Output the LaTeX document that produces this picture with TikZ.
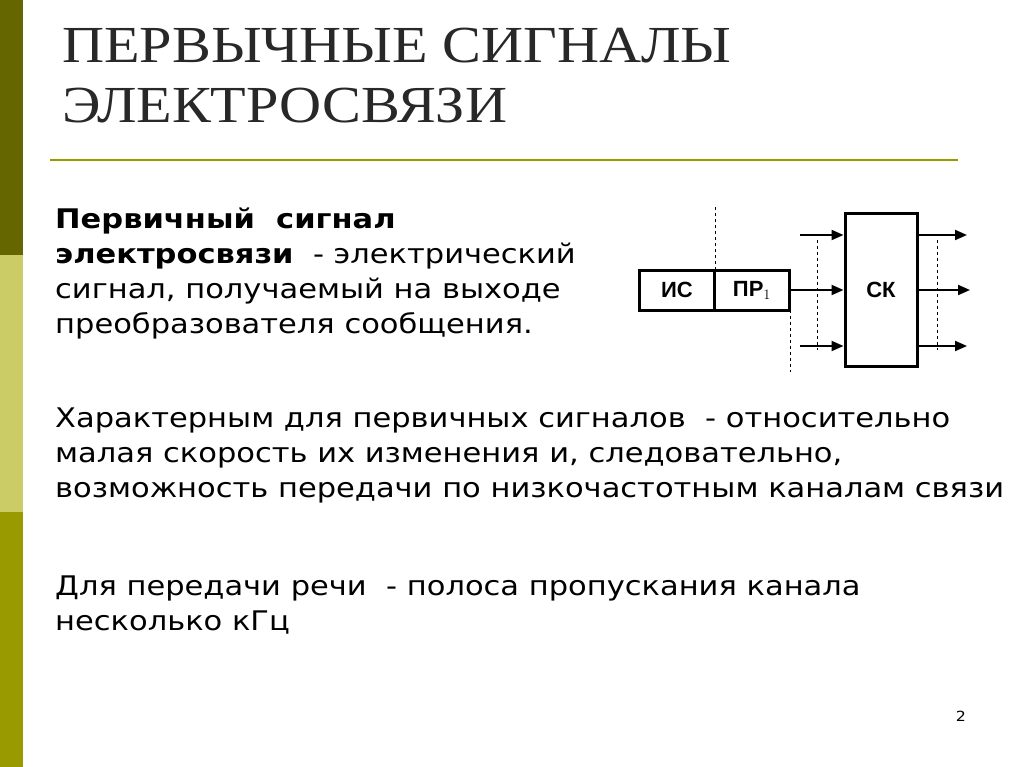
\documentclass[tikz,border=0pt]{standalone}
\usepackage{fontspec}
\setmainfont{DejaVu Sans}[FakeStretch=1.13]
\newfontfamily\titlefont{Liberation Serif}[FakeStretch=1.12]
\newfontfamily\blkfont{Liberation Sans}
\usetikzlibrary{arrows.meta}
\begin{document}
\begin{tikzpicture}[x=1pt,y=-1pt,
  txt/.style={anchor=north west,inner sep=0pt,align=left,font=\fontsize{27}{35}\selectfont},
  blk/.style={draw,line width=3pt,minimum height=40pt,inner sep=0pt,font=\blkfont\bfseries\fontsize{22}{22}\selectfont},
  arr/.style={line width=2pt,-{Triangle[length=12pt,width=10pt]}},
  dsh/.style={dashed,line width=1pt}]
\useasboundingbox (0,0) rectangle (1024,767);
\fill[white] (0,0) rectangle (1024,767);
\fill[fill={rgb,255:red,102;green,102;blue,0}] (0,0) rectangle (23,255);
\fill[fill={rgb,255:red,204;green,204;blue,102}] (0,255) rectangle (23,512);
\fill[fill={rgb,255:red,153;green,153;blue,0}] (0,512) rectangle (23,767);
\node[anchor=north west,inner sep=0pt,align=left,font=\titlefont\fontsize{52}{60}\selectfont,text={rgb,255:red,40;green,40;blue,40}] (title) at (62,28) {ПЕРВЫЧНЫЕ СИГНАЛЫ\\ЭЛЕКТРОСВЯЗИ};
\draw[line width=2pt,draw={rgb,255:red,153;green,153;blue,0}] (50,160) -- (958,160);
\node[txt] (t1) at (55,208) {\textbf{Первичный\ \ сигнал}\\\textbf{электросвязи}\ \ - электрический\\сигнал, получаемый на выходе\\преобразователя сообщения.};
\node[txt] (t2) at (55,408) {Характерным для первичных сигналов\ \ - относительно\\малая скорость их изменения и, следовательно,\\возможность передачи по низкочастотным каналам связи};
\node[txt] (t3) at (55,576) {Для передачи речи\ \ - полоса пропускания канала\\несколько кГц};
\node[anchor=center,font=\fontsize{14}{14}\selectfont] (pg) at (961,716) {2};
% diagram
\node[blk,minimum width=75pt] (is) at (677,290) {ИС};
\node[blk,minimum width=75pt] (pr) at (752,290) {ПР$_1$};
\node[blk,minimum width=72pt,minimum height=152pt] (sk) at (881,290) {СК};
\coordinate (d1a) at (715,207); \coordinate (d1b) at (715,270);
\coordinate (d2a) at (790,310); \coordinate (d2b) at (790,372);
\coordinate (d3a) at (817,240); \coordinate (d3b) at (817,350);
\coordinate (d4a) at (937,240); \coordinate (d4b) at (937,350);
\draw[dsh] (d1a)--(d1b); \draw[dsh] (d2a)--(d2b);
\draw[dsh] (d3a)--(d3b); \draw[dsh] (d4a)--(d4b);
\coordinate (i1) at (800,235); \coordinate (i3) at (800,346);
\draw[arr] (i1) -- (sk.west |- i1);
\draw[arr] (pr.east) -- (sk.west |- pr.east);
\draw[arr] (i3) -- (sk.west |- i3);
\coordinate (o1) at (967,235); \coordinate (o2) at (970,290); \coordinate (o3) at (967,346);
\draw[arr] (sk.east |- o1) -- (o1);
\draw[arr] (sk.east |- o2) -- (o2);
\draw[arr] (sk.east |- o3) -- (o3);
\end{tikzpicture}
\end{document}
